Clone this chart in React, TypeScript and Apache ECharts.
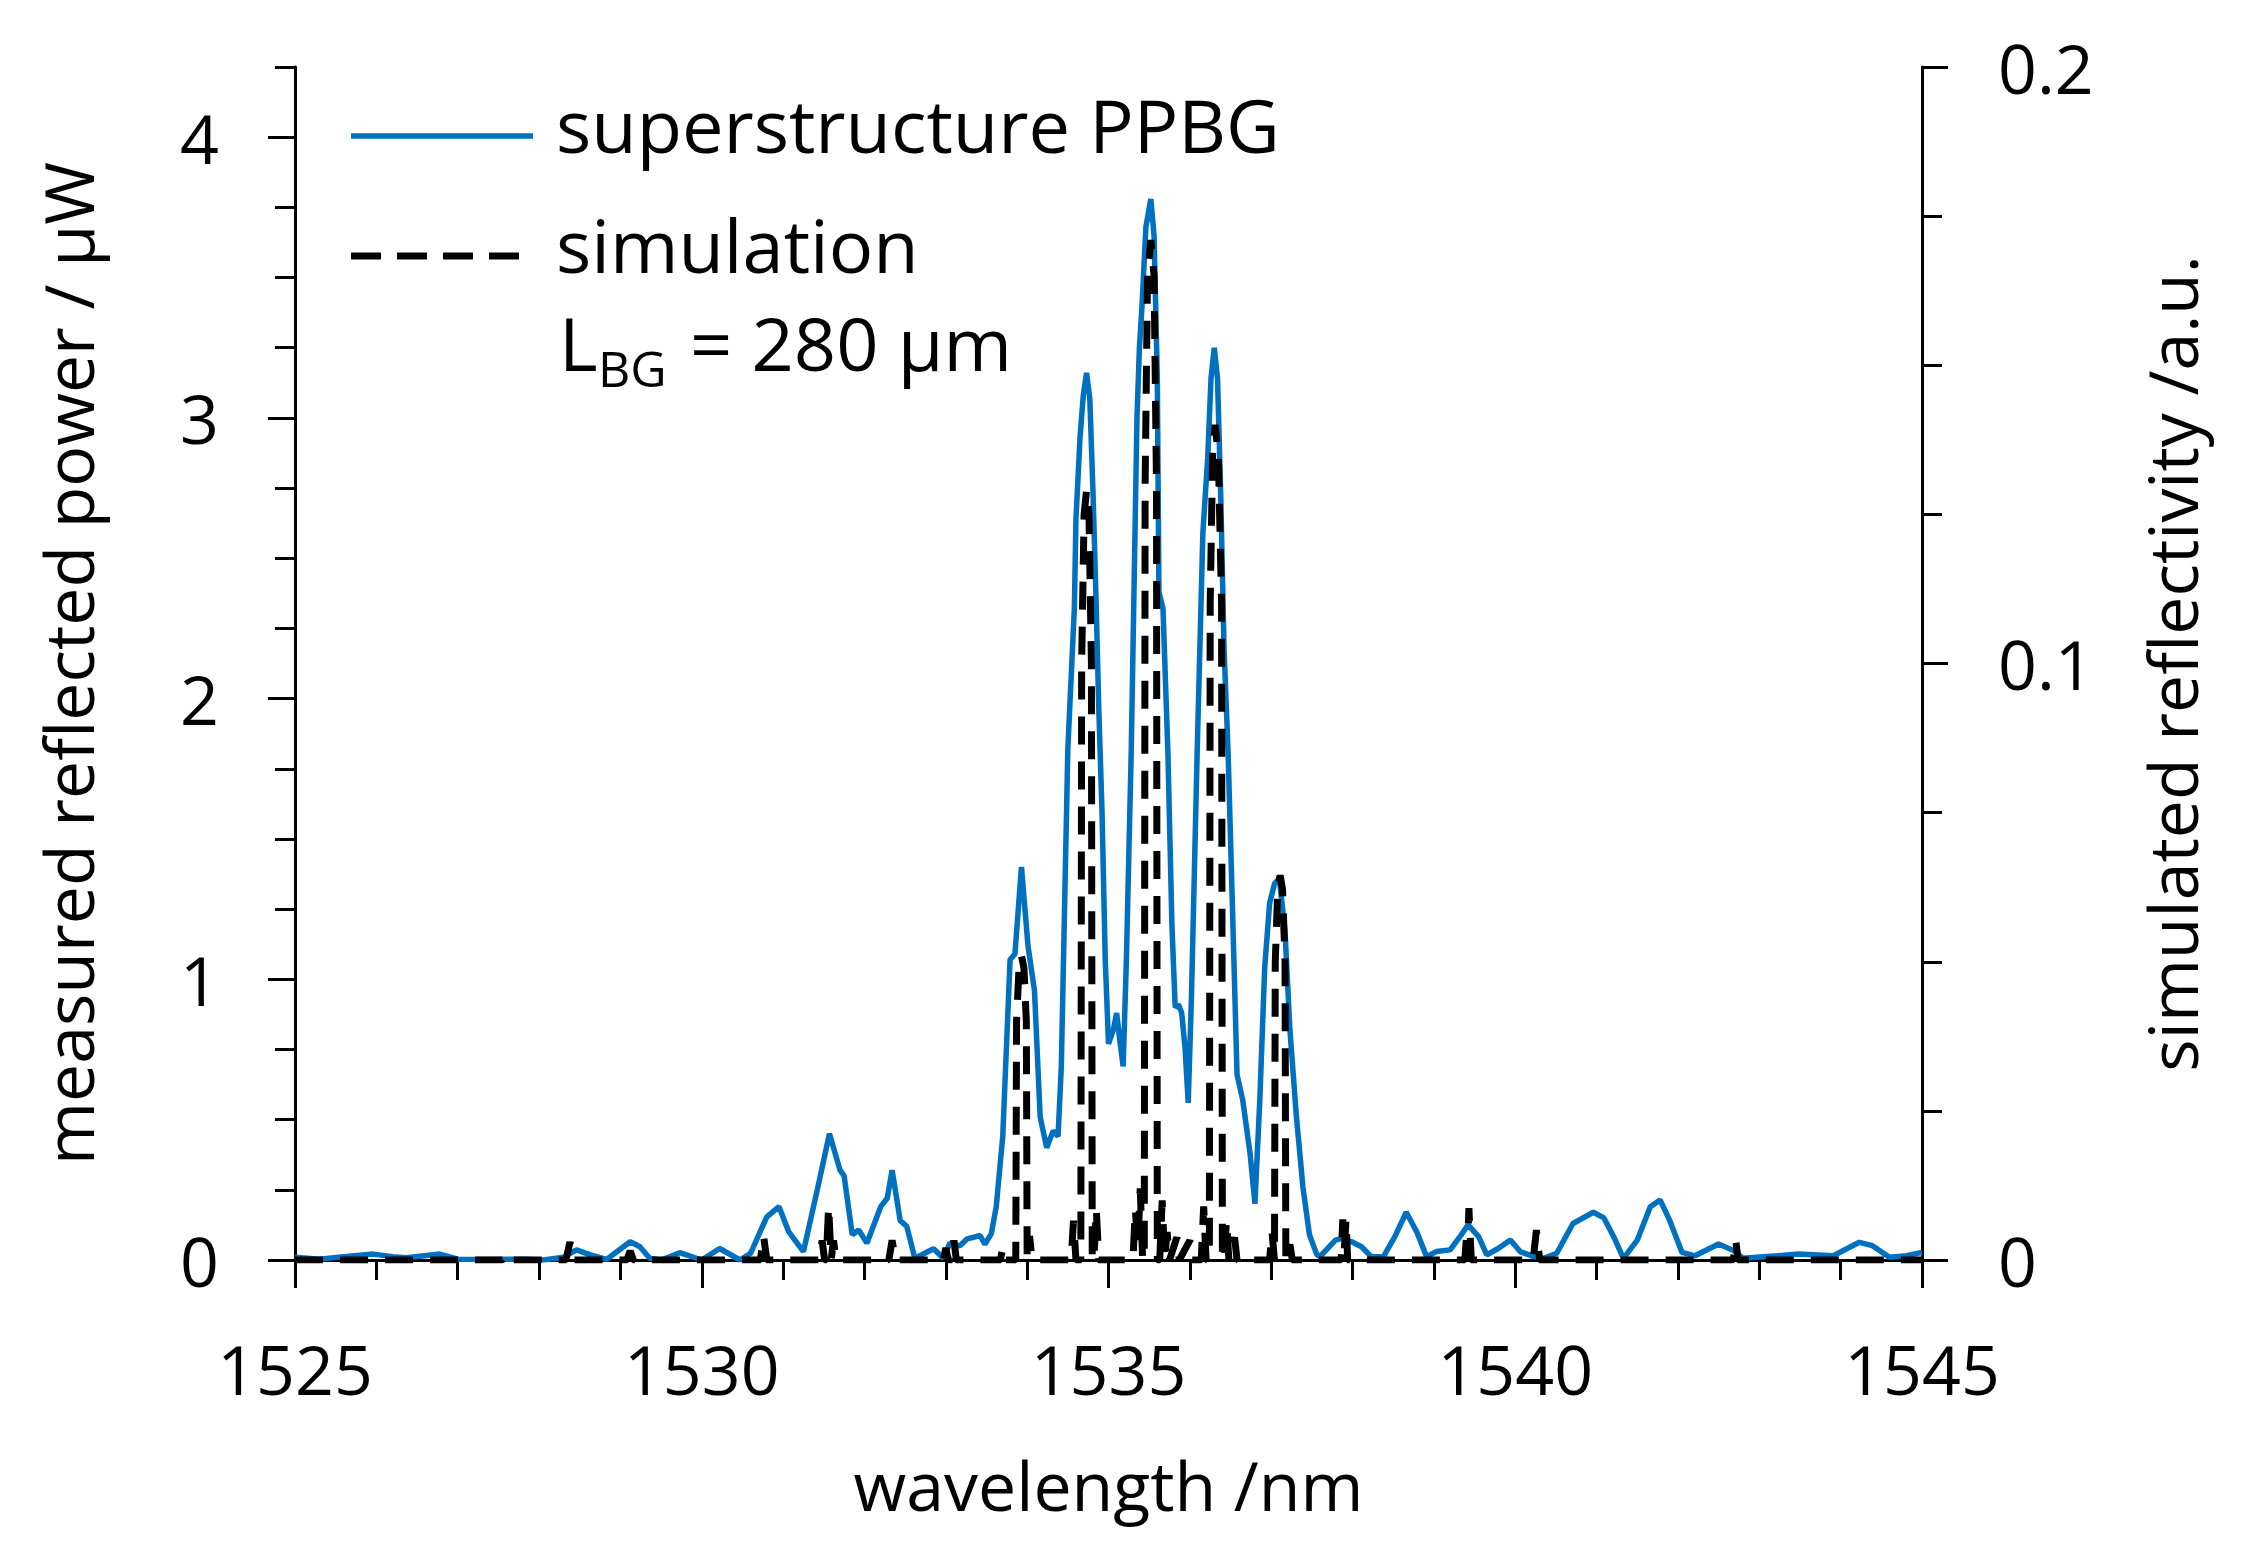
import React, { useEffect, useRef } from "react";
import * as echarts from "echarts";

// measured reflected power (µW) vs wavelength (nm)
const measuredNm = [
  1525.0, 1525.3, 1525.6, 1525.96, 1526.2, 1526.37, 1526.78, 1527.0, 1527.4, 1527.8,
  1528.05, 1528.3, 1528.46, 1528.63, 1528.83, 1529.12, 1529.24, 1529.36, 1529.5, 1529.73,
  1530.0, 1530.22, 1530.47, 1530.6, 1530.8, 1530.95, 1531.07, 1531.25, 1531.42, 1531.57,
  1531.7, 1531.75, 1531.85, 1531.93, 1532.03, 1532.2, 1532.28, 1532.34, 1532.44, 1532.52,
  1532.62, 1532.85, 1532.97, 1533.05, 1533.17, 1533.26, 1533.33, 1533.42, 1533.48, 1533.56,
  1533.62, 1533.7, 1533.79, 1533.85, 1533.93, 1534.01, 1534.09, 1534.16, 1534.24, 1534.32,
  1534.38, 1534.42, 1534.5, 1534.58, 1534.6, 1534.65, 1534.69, 1534.73, 1534.77, 1534.81,
  1534.85, 1534.88, 1534.92, 1534.96, 1535.0, 1535.06, 1535.1, 1535.14, 1535.18, 1535.22,
  1535.28, 1535.35, 1535.38, 1535.41, 1535.46, 1535.52, 1535.56, 1535.6, 1535.62, 1535.67,
  1535.73, 1535.78, 1535.82, 1535.86, 1535.9, 1535.94, 1535.98, 1536.02, 1536.09, 1536.16,
  1536.22, 1536.26, 1536.3, 1536.34, 1536.38, 1536.42, 1536.47, 1536.53, 1536.58, 1536.65,
  1536.74, 1536.8, 1536.86, 1536.92, 1536.98, 1537.04, 1537.1, 1537.17, 1537.23, 1537.31,
  1537.39, 1537.47, 1537.56, 1537.6, 1537.79, 1537.87, 1537.99, 1538.11, 1538.23, 1538.38,
  1538.52, 1538.66, 1538.79, 1538.91, 1539.03, 1539.2, 1539.32, 1539.42, 1539.55, 1539.65,
  1539.79, 1539.94, 1540.06, 1540.23, 1540.35, 1540.51, 1540.71, 1540.96, 1541.09, 1541.21,
  1541.33, 1541.5, 1541.66, 1541.78, 1541.9, 1542.05, 1542.21, 1542.5, 1542.69, 1542.8,
  1543.22, 1543.48, 1543.91, 1544.23, 1544.39, 1544.6, 1544.81, 1545.0,
];
const measuredUW = [
  0.01, 0.003, 0.012, 0.021, 0.012, 0.008, 0.021, 0.003, 0.002, 0.003,
  0.0, 0.01, 0.036, 0.018, 0.002, 0.065, 0.047, 0.006, 0.0, 0.026,
  0.0, 0.041, 0.0, 0.024, 0.154, 0.19, 0.1, 0.03, 0.25, 0.45,
  0.32, 0.3, 0.09, 0.107, 0.06, 0.19, 0.22, 0.32, 0.14, 0.12,
  0.006, 0.04, 0.006, 0.06, 0.05, 0.075, 0.08, 0.088, 0.056, 0.094,
  0.19, 0.44, 1.07, 1.09, 1.4, 1.12, 0.96, 0.51, 0.4, 0.46,
  0.44, 0.69, 1.82, 2.32, 2.64, 2.93, 3.08, 3.16, 3.07, 2.73,
  2.32, 1.97, 1.6, 1.07, 0.77, 0.82, 0.88, 0.78, 0.69, 1.07,
  1.82, 3.0, 3.25, 3.39, 3.68, 3.78, 3.65, 3.14, 2.38, 2.32,
  1.81, 1.19, 0.9, 0.91, 0.88, 0.76, 0.56, 0.94, 1.81, 2.59,
  2.86, 3.14, 3.25, 3.14, 2.72, 2.18, 1.81, 1.19, 0.66, 0.57,
  0.38, 0.2, 0.57, 1.04, 1.27, 1.34, 1.36, 1.17, 0.82, 0.51,
  0.26, 0.09, 0.02, 0.012, 0.071, 0.077, 0.065, 0.047, 0.012, 0.012,
  0.083, 0.17, 0.1, 0.012, 0.03, 0.036, 0.083, 0.125, 0.083, 0.018,
  0.041, 0.071, 0.03, 0.012, 0.006, 0.024, 0.13, 0.17, 0.15, 0.083,
  0.006, 0.071, 0.19, 0.214, 0.14, 0.027, 0.015, 0.057, 0.033, 0.006,
  0.015, 0.021, 0.015, 0.063, 0.051, 0.01, 0.015, 0.027,
];

// simulated reflectivity (a.u.) vs wavelength (nm)
const simNm = [
  1525.0, 1527.55, 1527.6, 1527.65, 1528.33, 1528.38, 1528.42, 1529.08, 1529.12, 1529.16,
  1530.72, 1530.76, 1530.8, 1531.45, 1531.48, 1531.51, 1531.53, 1531.56, 1531.59, 1531.62,
  1531.65, 1532.3, 1532.34, 1532.38, 1532.97, 1533.0, 1533.03, 1533.07, 1533.1, 1533.13,
  1533.67, 1533.7, 1533.73, 1533.86, 1533.87, 1533.9, 1533.93, 1533.96, 1533.99, 1534.0,
  1534.03, 1534.06, 1534.54, 1534.57, 1534.6, 1534.66, 1534.67, 1534.7, 1534.73, 1534.76,
  1534.79, 1534.8, 1534.82, 1534.85, 1534.88, 1535.3, 1535.33, 1535.36, 1535.39, 1535.42,
  1535.44, 1535.45, 1535.48, 1535.52, 1535.56, 1535.59, 1535.6, 1535.63, 1535.66, 1535.69,
  1535.72, 1535.75, 1535.84, 1535.87, 1536.0, 1536.03, 1536.14, 1536.17, 1536.2, 1536.24,
  1536.25, 1536.28, 1536.31, 1536.35, 1536.39, 1536.4, 1536.42, 1536.45, 1536.48, 1536.55,
  1536.58, 1536.98, 1537.01, 1537.04, 1537.05, 1537.08, 1537.11, 1537.14, 1537.17, 1537.18,
  1537.23, 1537.26, 1537.86, 1537.88, 1537.9, 1537.92, 1537.94, 1539.38, 1539.4, 1539.41,
  1539.43, 1539.46, 1540.22, 1540.26, 1540.3, 1542.68, 1542.71, 1542.74, 1545.0,
];
const simRefl = [
  0, 0, 0.001, 0, 0, 0.003, 0, 0, 0.0015, 0,
  0, 0.004, 0, 0, 0.0033, 0, 0, 0.009, 0, 0.0033,
  0, 0, 0.0033, 0, 0, 0.002, 0, 0, 0.0033, 0,
  0, 0.002, 0, 0, 0.04, 0.049, 0.051, 0.049, 0.04, 0,
  0.004, 0, 0, 0.0066, 0, 0, 0.1, 0.125, 0.129, 0.125,
  0.1, 0, 0, 0.0085, 0, 0, 0.0085, 0.002, 0.012, 0,
  0, 0.13, 0.165, 0.171, 0.165, 0.13, 0, 0, 0.01, 0,
  0.0047, 0, 0.0038, 0, 0.0033, 0, 0, 0.009, 0, 0,
  0.11, 0.135, 0.14, 0.135, 0.11, 0, 0, 0.0066, 0, 0.0038,
  0, 0, 0.0047, 0, 0.05, 0.062, 0.0645, 0.062, 0.05, 0,
  0.0026, 0, 0, 0.0068, 0.002, 0.0068, 0, 0, 0.0038, 0,
  0.0087, 0, 0, 0.005, 0, 0, 0.0033, 0, 0,
];

const legendMeasured = "superstructure PPBG";
const legendSim = "simulation";
const xTitle = "wavelength /nm";
const yLeftTitle = "measured reflected power / μW";
const yRightTitle = "simulated reflectivity /a.u.";

const BLUE = "#0070C0";
const FONT = "'Open Sans', 'Noto Sans', sans-serif";
const FS = 68;
const LFS = 74;

export default function App() {
  const ref = useRef<HTMLDivElement>(null);
  useEffect(() => {
    document.body.style.margin = "0";
    document.body.style.overflow = "hidden";
    const chart = echarts.init(ref.current!, null, { renderer: "svg" });
    const axisLine = { show: true, lineStyle: { color: "#000", width: 3 } };
    const label = { color: "#000", fontSize: FS, fontFamily: FONT };
    const nameStyle = { color: "#000", fontSize: FS, fontFamily: FONT };
    chart.setOption({
      animation: false,
      backgroundColor: "#fff",
      grid: { left: 295, right: 326, top: 67, bottom: 290, containLabel: false },
      xAxis: [
        {
          type: "value",
          min: 1525,
          max: 1545,
          interval: 5,
          position: "bottom",
          axisLine,
          axisTick: { show: true, inside: false, length: 28, lineStyle: { color: "#000", width: 3 } },
          minorTick: { show: true, splitNumber: 5, length: 20, lineStyle: { color: "#000", width: 3 } },
          axisLabel: { ...label, margin: 74, formatter: (v: number) => String(v) },
          splitLine: { show: false },
          name: xTitle,
          nameLocation: "middle",
          nameGap: 190,
          nameTextStyle: nameStyle,
        },
        {
          type: "value",
          min: 1525,
          max: 1545,
          position: "top",
          axisLine,
          axisTick: { show: false },
          axisLabel: { show: false },
          splitLine: { show: false },
        },
      ],
      yAxis: [
        {
          type: "value",
          min: 0,
          max: 4.25,
          interval: 1,
          position: "left",
          axisLine,
          axisTick: { show: true, length: 27, lineStyle: { color: "#000", width: 3 } },
          axisLabel: { ...label, margin: 76, showMaxLabel: false },
          splitLine: { show: false },
          name: yLeftTitle,
          nameLocation: "middle",
          nameRotate: 90,
          nameGap: 194,
          nameTextStyle: nameStyle,
        },
        {
          type: "value",
          min: 0,
          max: 0.2,
          interval: 0.1,
          position: "right",
          axisLine,
          axisTick: { show: true, length: 26, lineStyle: { color: "#000", width: 3 } },
          minorTick: { show: true, splitNumber: 4, length: 20, lineStyle: { color: "#000", width: 3 } },
          axisLabel: {
            ...label,
            margin: 76,
            formatter: (v: number) => (v === 0 ? "0" : v.toFixed(1)),
          },
          splitLine: { show: false },
          name: yRightTitle,
          nameLocation: "middle",
          nameRotate: 90,
          nameGap: 215,
          nameTextStyle: nameStyle,
        },
        {
          type: "value",
          min: 0,
          max: 4.25,
          interval: 0.25,
          position: "left",
          axisLine: { show: false },
          axisTick: { show: true, length: 20, lineStyle: { color: "#000", width: 3 } },
          axisLabel: { show: false },
          splitLine: { show: false },
        },
      ],
      series: [
        {
          type: "line",
          name: legendMeasured,
          xAxisIndex: 0,
          yAxisIndex: 0,
          data: measuredNm.map((x, i) => [x, measuredUW[i]]),
          showSymbol: false,
          symbol: "none",
          lineStyle: { color: BLUE, width: 5.5 },
          z: 2,
        },
        {
          type: "line",
          name: legendSim,
          xAxisIndex: 0,
          yAxisIndex: 1,
          data: simNm.map((x, i) => [x, simRefl[i]]),
          showSymbol: false,
          symbol: "none",
          lineStyle: { color: "#000", width: 7, type: [28, 17] },
          z: 3,
        },
      ],
      graphic: [
        {
          type: "line",
          shape: { x1: 351, y1: 136, x2: 533, y2: 136 },
          style: { stroke: BLUE, lineWidth: 5.5 },
        },
        {
          type: "text",
          x: 556,
          y: 124,
          style: { text: legendMeasured, fontSize: LFS, fontFamily: FONT, fill: "#000", verticalAlign: "middle" },
        },
        {
          type: "line",
          shape: { x1: 351, y1: 256, x2: 519, y2: 256 },
          style: { stroke: "#000", lineWidth: 7, lineDash: [30, 16] },
        },
        {
          type: "text",
          x: 556,
          y: 244,
          style: { text: legendSim, fontSize: LFS, fontFamily: FONT, fill: "#000", verticalAlign: "middle" },
        },
        {
          type: "text",
          x: 559,
          y: 342,
          style: { text: "L", fontSize: LFS, fontFamily: FONT, fill: "#000", verticalAlign: "middle" },
        },
        {
          type: "text",
          x: 598,
          y: 368,
          style: { text: "BG", fontSize: 50, fontFamily: FONT, fill: "#000", verticalAlign: "middle" },
        },
        {
          type: "text",
          x: 690,
          y: 342,
          style: { text: "= 280 μm", fontSize: LFS, fontFamily: FONT, fill: "#000", verticalAlign: "middle" },
        },
      ],
    });
    return () => chart.dispose();
  }, []);
  return <div ref={ref} style={{ width: 2248, height: 1550 }} />;
}
